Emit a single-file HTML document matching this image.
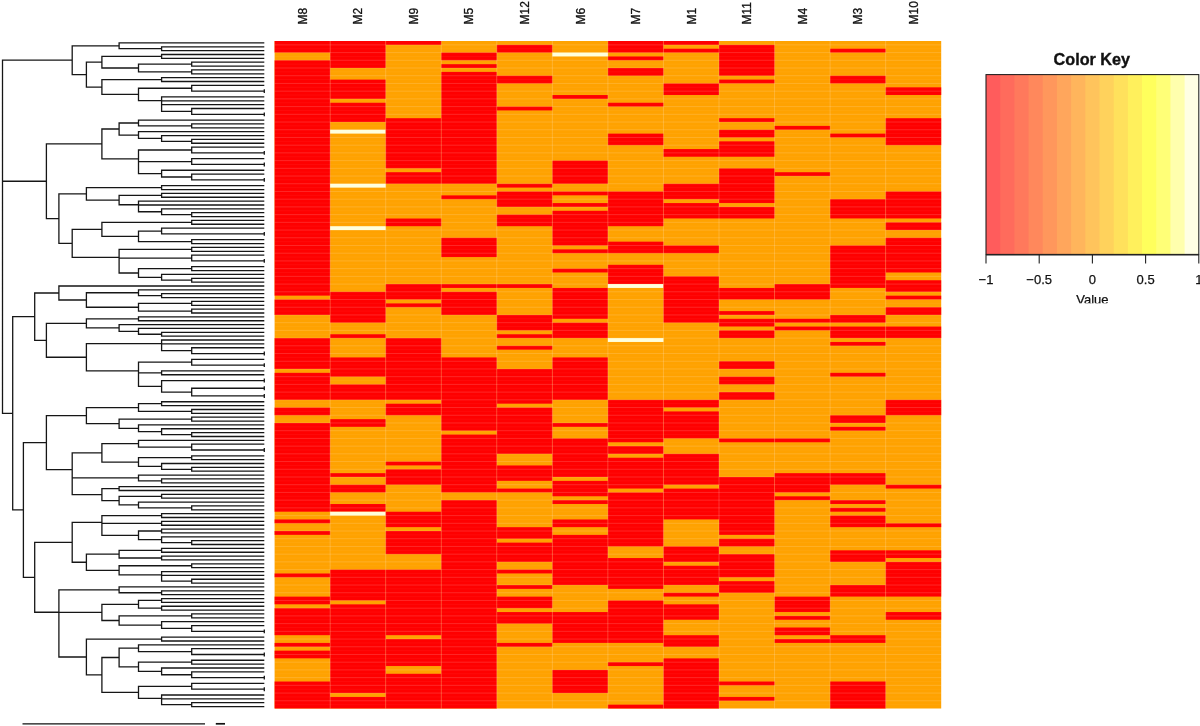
<!DOCTYPE html>
<html><head><meta charset="utf-8"><title>Heatmap</title>
<style>
html,body{margin:0;padding:0;background:#fff;}
body{width:1200px;height:726px;position:relative;overflow:hidden;font-family:"Liberation Sans",sans-serif;}
svg text{font-family:"Liberation Sans",sans-serif;}
.val{position:absolute;left:1062px;top:292px;width:60px;height:10.8px;overflow:hidden;text-align:center;font-size:12px;line-height:14px;color:#111;}
</style></head><body>
<svg width="1200" height="726" viewBox="0 0 1200 726" style="position:absolute;left:0;top:0">
<rect x="274.60" y="41.00" width="666.60" height="667.50" fill="#ffa200"/>
<g shape-rendering="auto">
<rect x="274.60" y="41.00" width="55.55" height="11.58" fill="#ff0000"/>
<rect x="274.60" y="60.29" width="55.55" height="235.36" fill="#ff0000"/>
<rect x="274.60" y="299.51" width="55.55" height="15.43" fill="#ff0000"/>
<rect x="274.60" y="338.10" width="55.55" height="30.87" fill="#ff0000"/>
<rect x="274.60" y="372.82" width="55.55" height="27.01" fill="#ff0000"/>
<rect x="274.60" y="407.55" width="55.55" height="7.72" fill="#ff0000"/>
<rect x="274.60" y="422.98" width="55.55" height="88.74" fill="#ff0000"/>
<rect x="274.60" y="519.44" width="55.55" height="3.86" fill="#ff0000"/>
<rect x="274.60" y="531.01" width="55.55" height="3.86" fill="#ff0000"/>
<rect x="274.60" y="573.46" width="55.55" height="3.86" fill="#ff0000"/>
<rect x="274.60" y="596.61" width="55.55" height="7.72" fill="#ff0000"/>
<rect x="274.60" y="608.18" width="55.55" height="27.01" fill="#ff0000"/>
<rect x="274.60" y="642.91" width="55.55" height="3.86" fill="#ff0000"/>
<rect x="274.60" y="650.62" width="55.55" height="7.72" fill="#ff0000"/>
<rect x="274.60" y="681.49" width="55.55" height="27.01" fill="#ff0000"/>
<rect x="330.15" y="41.00" width="55.55" height="27.01" fill="#ff0000"/>
<rect x="330.15" y="79.58" width="55.55" height="19.29" fill="#ff0000"/>
<rect x="330.15" y="102.73" width="55.55" height="19.29" fill="#ff0000"/>
<rect x="330.15" y="129.74" width="55.55" height="3.86" fill="#ffffdc"/>
<rect x="330.15" y="183.76" width="55.55" height="3.86" fill="#ffffdc"/>
<rect x="330.15" y="226.20" width="55.55" height="3.86" fill="#ffffdc"/>
<rect x="330.15" y="291.79" width="55.55" height="30.87" fill="#ff0000"/>
<rect x="330.15" y="334.24" width="55.55" height="3.86" fill="#ff0000"/>
<rect x="330.15" y="357.39" width="55.55" height="19.29" fill="#ff0000"/>
<rect x="330.15" y="384.40" width="55.55" height="15.43" fill="#ff0000"/>
<rect x="330.15" y="419.12" width="55.55" height="7.72" fill="#ff0000"/>
<rect x="330.15" y="473.14" width="55.55" height="3.86" fill="#ff0000"/>
<rect x="330.15" y="484.71" width="55.55" height="7.72" fill="#ff0000"/>
<rect x="330.15" y="504.01" width="55.55" height="7.72" fill="#ff0000"/>
<rect x="330.15" y="511.72" width="55.55" height="3.86" fill="#ffffdc"/>
<rect x="330.15" y="569.60" width="55.55" height="30.87" fill="#ff0000"/>
<rect x="330.15" y="604.32" width="55.55" height="88.74" fill="#ff0000"/>
<rect x="330.15" y="696.92" width="55.55" height="11.58" fill="#ff0000"/>
<rect x="385.70" y="41.00" width="55.55" height="3.86" fill="#ff0000"/>
<rect x="385.70" y="118.17" width="55.55" height="50.16" fill="#ff0000"/>
<rect x="385.70" y="172.18" width="55.55" height="11.58" fill="#ff0000"/>
<rect x="385.70" y="218.49" width="55.55" height="7.72" fill="#ff0000"/>
<rect x="385.70" y="284.08" width="55.55" height="15.43" fill="#ff0000"/>
<rect x="385.70" y="303.37" width="55.55" height="3.86" fill="#ff0000"/>
<rect x="385.70" y="338.10" width="55.55" height="61.73" fill="#ff0000"/>
<rect x="385.70" y="403.69" width="55.55" height="11.58" fill="#ff0000"/>
<rect x="385.70" y="461.56" width="55.55" height="3.86" fill="#ff0000"/>
<rect x="385.70" y="469.28" width="55.55" height="15.43" fill="#ff0000"/>
<rect x="385.70" y="511.72" width="55.55" height="15.43" fill="#ff0000"/>
<rect x="385.70" y="531.01" width="55.55" height="23.15" fill="#ff0000"/>
<rect x="385.70" y="569.60" width="55.55" height="65.59" fill="#ff0000"/>
<rect x="385.70" y="639.05" width="55.55" height="27.01" fill="#ff0000"/>
<rect x="385.70" y="673.77" width="55.55" height="34.73" fill="#ff0000"/>
<rect x="441.25" y="52.58" width="55.55" height="7.72" fill="#ff0000"/>
<rect x="441.25" y="64.15" width="55.55" height="3.86" fill="#ff0000"/>
<rect x="441.25" y="71.87" width="55.55" height="111.89" fill="#ff0000"/>
<rect x="441.25" y="195.34" width="55.55" height="3.86" fill="#ff0000"/>
<rect x="441.25" y="237.78" width="55.55" height="19.29" fill="#ff0000"/>
<rect x="441.25" y="284.08" width="55.55" height="3.86" fill="#ff0000"/>
<rect x="441.25" y="291.79" width="55.55" height="23.15" fill="#ff0000"/>
<rect x="441.25" y="357.39" width="55.55" height="73.31" fill="#ff0000"/>
<rect x="441.25" y="434.55" width="55.55" height="57.88" fill="#ff0000"/>
<rect x="441.25" y="500.15" width="55.55" height="208.35" fill="#ff0000"/>
<rect x="496.80" y="44.86" width="55.55" height="7.72" fill="#ff0000"/>
<rect x="496.80" y="75.73" width="55.55" height="7.72" fill="#ff0000"/>
<rect x="496.80" y="106.59" width="55.55" height="3.86" fill="#ff0000"/>
<rect x="496.80" y="183.76" width="55.55" height="3.86" fill="#ff0000"/>
<rect x="496.80" y="191.48" width="55.55" height="15.43" fill="#ff0000"/>
<rect x="496.80" y="214.63" width="55.55" height="11.58" fill="#ff0000"/>
<rect x="496.80" y="284.08" width="55.55" height="3.86" fill="#ff0000"/>
<rect x="496.80" y="314.95" width="55.55" height="15.43" fill="#ff0000"/>
<rect x="496.80" y="334.24" width="55.55" height="3.86" fill="#ff0000"/>
<rect x="496.80" y="345.81" width="55.55" height="3.86" fill="#ff0000"/>
<rect x="496.80" y="368.96" width="55.55" height="34.73" fill="#ff0000"/>
<rect x="496.80" y="407.55" width="55.55" height="46.30" fill="#ff0000"/>
<rect x="496.80" y="465.42" width="55.55" height="15.43" fill="#ff0000"/>
<rect x="496.80" y="488.57" width="55.55" height="3.86" fill="#ff0000"/>
<rect x="496.80" y="527.16" width="55.55" height="11.58" fill="#ff0000"/>
<rect x="496.80" y="542.59" width="55.55" height="19.29" fill="#ff0000"/>
<rect x="496.80" y="569.60" width="55.55" height="3.86" fill="#ff0000"/>
<rect x="496.80" y="585.03" width="55.55" height="3.86" fill="#ff0000"/>
<rect x="496.80" y="596.61" width="55.55" height="11.58" fill="#ff0000"/>
<rect x="496.80" y="612.04" width="55.55" height="11.58" fill="#ff0000"/>
<rect x="496.80" y="642.91" width="55.55" height="3.86" fill="#ff0000"/>
<rect x="552.35" y="52.58" width="55.55" height="3.86" fill="#ffffdc"/>
<rect x="552.35" y="95.02" width="55.55" height="3.86" fill="#ff0000"/>
<rect x="552.35" y="160.61" width="55.55" height="23.15" fill="#ff0000"/>
<rect x="552.35" y="191.48" width="55.55" height="3.86" fill="#ff0000"/>
<rect x="552.35" y="203.05" width="55.55" height="3.86" fill="#ff0000"/>
<rect x="552.35" y="210.77" width="55.55" height="34.73" fill="#ff0000"/>
<rect x="552.35" y="249.35" width="55.55" height="3.86" fill="#ff0000"/>
<rect x="552.35" y="268.64" width="55.55" height="3.86" fill="#ff0000"/>
<rect x="552.35" y="287.94" width="55.55" height="30.87" fill="#ff0000"/>
<rect x="552.35" y="322.66" width="55.55" height="15.43" fill="#ff0000"/>
<rect x="552.35" y="357.39" width="55.55" height="42.44" fill="#ff0000"/>
<rect x="552.35" y="422.98" width="55.55" height="3.86" fill="#ff0000"/>
<rect x="552.35" y="438.41" width="55.55" height="38.58" fill="#ff0000"/>
<rect x="552.35" y="480.86" width="55.55" height="15.43" fill="#ff0000"/>
<rect x="552.35" y="500.15" width="55.55" height="3.86" fill="#ff0000"/>
<rect x="552.35" y="519.44" width="55.55" height="7.72" fill="#ff0000"/>
<rect x="552.35" y="534.87" width="55.55" height="50.16" fill="#ff0000"/>
<rect x="552.35" y="612.04" width="55.55" height="30.87" fill="#ff0000"/>
<rect x="552.35" y="669.92" width="55.55" height="23.15" fill="#ff0000"/>
<rect x="607.90" y="41.00" width="55.55" height="11.58" fill="#ff0000"/>
<rect x="607.90" y="56.43" width="55.55" height="3.86" fill="#ff0000"/>
<rect x="607.90" y="68.01" width="55.55" height="7.72" fill="#ff0000"/>
<rect x="607.90" y="102.73" width="55.55" height="3.86" fill="#ff0000"/>
<rect x="607.90" y="133.60" width="55.55" height="11.58" fill="#ff0000"/>
<rect x="607.90" y="191.48" width="55.55" height="34.73" fill="#ff0000"/>
<rect x="607.90" y="241.64" width="55.55" height="11.58" fill="#ff0000"/>
<rect x="607.90" y="264.79" width="55.55" height="19.29" fill="#ff0000"/>
<rect x="607.90" y="284.08" width="55.55" height="3.86" fill="#ffffdc"/>
<rect x="607.90" y="338.10" width="55.55" height="3.86" fill="#ffffdc"/>
<rect x="607.90" y="399.83" width="55.55" height="42.44" fill="#ff0000"/>
<rect x="607.90" y="446.13" width="55.55" height="7.72" fill="#ff0000"/>
<rect x="607.90" y="457.71" width="55.55" height="30.87" fill="#ff0000"/>
<rect x="607.90" y="492.43" width="55.55" height="54.02" fill="#ff0000"/>
<rect x="607.90" y="558.02" width="55.55" height="30.87" fill="#ff0000"/>
<rect x="607.90" y="600.47" width="55.55" height="42.44" fill="#ff0000"/>
<rect x="607.90" y="662.20" width="55.55" height="3.86" fill="#ff0000"/>
<rect x="607.90" y="704.64" width="55.55" height="3.86" fill="#ff0000"/>
<rect x="663.45" y="41.00" width="55.55" height="3.86" fill="#ff0000"/>
<rect x="663.45" y="48.72" width="55.55" height="3.86" fill="#ff0000"/>
<rect x="663.45" y="83.44" width="55.55" height="11.58" fill="#ff0000"/>
<rect x="663.45" y="149.03" width="55.55" height="7.72" fill="#ff0000"/>
<rect x="663.45" y="183.76" width="55.55" height="15.43" fill="#ff0000"/>
<rect x="663.45" y="203.05" width="55.55" height="15.43" fill="#ff0000"/>
<rect x="663.45" y="245.49" width="55.55" height="7.72" fill="#ff0000"/>
<rect x="663.45" y="276.36" width="55.55" height="46.30" fill="#ff0000"/>
<rect x="663.45" y="399.83" width="55.55" height="7.72" fill="#ff0000"/>
<rect x="663.45" y="411.40" width="55.55" height="27.01" fill="#ff0000"/>
<rect x="663.45" y="453.85" width="55.55" height="30.87" fill="#ff0000"/>
<rect x="663.45" y="488.57" width="55.55" height="30.87" fill="#ff0000"/>
<rect x="663.45" y="546.45" width="55.55" height="15.43" fill="#ff0000"/>
<rect x="663.45" y="565.74" width="55.55" height="19.29" fill="#ff0000"/>
<rect x="663.45" y="592.75" width="55.55" height="3.86" fill="#ff0000"/>
<rect x="663.45" y="604.32" width="55.55" height="15.43" fill="#ff0000"/>
<rect x="663.45" y="635.19" width="55.55" height="11.58" fill="#ff0000"/>
<rect x="663.45" y="658.34" width="55.55" height="50.16" fill="#ff0000"/>
<rect x="719.00" y="44.86" width="55.55" height="30.87" fill="#ff0000"/>
<rect x="719.00" y="79.58" width="55.55" height="3.86" fill="#ff0000"/>
<rect x="719.00" y="118.17" width="55.55" height="3.86" fill="#ff0000"/>
<rect x="719.00" y="129.74" width="55.55" height="7.72" fill="#ff0000"/>
<rect x="719.00" y="141.32" width="55.55" height="15.43" fill="#ff0000"/>
<rect x="719.00" y="168.33" width="55.55" height="34.73" fill="#ff0000"/>
<rect x="719.00" y="206.91" width="55.55" height="11.58" fill="#ff0000"/>
<rect x="719.00" y="287.94" width="55.55" height="11.58" fill="#ff0000"/>
<rect x="719.00" y="311.09" width="55.55" height="3.86" fill="#ff0000"/>
<rect x="719.00" y="318.80" width="55.55" height="7.72" fill="#ff0000"/>
<rect x="719.00" y="330.38" width="55.55" height="7.72" fill="#ff0000"/>
<rect x="719.00" y="361.25" width="55.55" height="7.72" fill="#ff0000"/>
<rect x="719.00" y="376.68" width="55.55" height="7.72" fill="#ff0000"/>
<rect x="719.00" y="392.11" width="55.55" height="7.72" fill="#ff0000"/>
<rect x="719.00" y="438.41" width="55.55" height="3.86" fill="#ff0000"/>
<rect x="719.00" y="477.00" width="55.55" height="57.88" fill="#ff0000"/>
<rect x="719.00" y="538.73" width="55.55" height="7.72" fill="#ff0000"/>
<rect x="719.00" y="554.16" width="55.55" height="23.15" fill="#ff0000"/>
<rect x="719.00" y="581.17" width="55.55" height="11.58" fill="#ff0000"/>
<rect x="719.00" y="681.49" width="55.55" height="3.86" fill="#ff0000"/>
<rect x="719.00" y="696.92" width="55.55" height="3.86" fill="#ff0000"/>
<rect x="774.55" y="125.88" width="55.55" height="3.86" fill="#ff0000"/>
<rect x="774.55" y="172.18" width="55.55" height="3.86" fill="#ff0000"/>
<rect x="774.55" y="284.08" width="55.55" height="15.43" fill="#ff0000"/>
<rect x="774.55" y="318.80" width="55.55" height="3.86" fill="#ff0000"/>
<rect x="774.55" y="326.52" width="55.55" height="3.86" fill="#ff0000"/>
<rect x="774.55" y="438.41" width="55.55" height="3.86" fill="#ff0000"/>
<rect x="774.55" y="473.14" width="55.55" height="19.29" fill="#ff0000"/>
<rect x="774.55" y="496.29" width="55.55" height="3.86" fill="#ff0000"/>
<rect x="774.55" y="596.61" width="55.55" height="15.43" fill="#ff0000"/>
<rect x="774.55" y="615.90" width="55.55" height="3.86" fill="#ff0000"/>
<rect x="774.55" y="627.47" width="55.55" height="7.72" fill="#ff0000"/>
<rect x="774.55" y="639.05" width="55.55" height="3.86" fill="#ff0000"/>
<rect x="830.10" y="48.72" width="55.55" height="3.86" fill="#ff0000"/>
<rect x="830.10" y="75.73" width="55.55" height="7.72" fill="#ff0000"/>
<rect x="830.10" y="133.60" width="55.55" height="3.86" fill="#ff0000"/>
<rect x="830.10" y="199.19" width="55.55" height="19.29" fill="#ff0000"/>
<rect x="830.10" y="245.49" width="55.55" height="42.44" fill="#ff0000"/>
<rect x="830.10" y="314.95" width="55.55" height="7.72" fill="#ff0000"/>
<rect x="830.10" y="326.52" width="55.55" height="11.58" fill="#ff0000"/>
<rect x="830.10" y="341.95" width="55.55" height="3.86" fill="#ff0000"/>
<rect x="830.10" y="372.82" width="55.55" height="3.86" fill="#ff0000"/>
<rect x="830.10" y="415.26" width="55.55" height="7.72" fill="#ff0000"/>
<rect x="830.10" y="426.84" width="55.55" height="3.86" fill="#ff0000"/>
<rect x="830.10" y="473.14" width="55.55" height="11.58" fill="#ff0000"/>
<rect x="830.10" y="500.15" width="55.55" height="3.86" fill="#ff0000"/>
<rect x="830.10" y="507.86" width="55.55" height="3.86" fill="#ff0000"/>
<rect x="830.10" y="515.58" width="55.55" height="11.58" fill="#ff0000"/>
<rect x="830.10" y="550.31" width="55.55" height="11.58" fill="#ff0000"/>
<rect x="830.10" y="585.03" width="55.55" height="11.58" fill="#ff0000"/>
<rect x="830.10" y="635.19" width="55.55" height="7.72" fill="#ff0000"/>
<rect x="830.10" y="681.49" width="55.55" height="27.01" fill="#ff0000"/>
<rect x="885.65" y="87.30" width="55.55" height="7.72" fill="#ff0000"/>
<rect x="885.65" y="118.17" width="55.55" height="27.01" fill="#ff0000"/>
<rect x="885.65" y="191.48" width="55.55" height="27.01" fill="#ff0000"/>
<rect x="885.65" y="222.34" width="55.55" height="7.72" fill="#ff0000"/>
<rect x="885.65" y="237.78" width="55.55" height="34.73" fill="#ff0000"/>
<rect x="885.65" y="280.22" width="55.55" height="11.58" fill="#ff0000"/>
<rect x="885.65" y="295.65" width="55.55" height="3.86" fill="#ff0000"/>
<rect x="885.65" y="307.23" width="55.55" height="7.72" fill="#ff0000"/>
<rect x="885.65" y="326.52" width="55.55" height="11.58" fill="#ff0000"/>
<rect x="885.65" y="399.83" width="55.55" height="15.43" fill="#ff0000"/>
<rect x="885.65" y="484.71" width="55.55" height="3.86" fill="#ff0000"/>
<rect x="885.65" y="523.30" width="55.55" height="3.86" fill="#ff0000"/>
<rect x="885.65" y="550.31" width="55.55" height="7.72" fill="#ff0000"/>
<rect x="885.65" y="561.88" width="55.55" height="34.73" fill="#ff0000"/>
<rect x="885.65" y="612.04" width="55.55" height="7.72" fill="#ff0000"/>
</g>
<path d="M330.15 41.0V708.5M385.70 41.0V708.5M441.25 41.0V708.5M496.80 41.0V708.5M552.35 41.0V708.5M607.90 41.0V708.5M663.45 41.0V708.5M719.00 41.0V708.5M774.55 41.0V708.5M830.10 41.0V708.5M885.65 41.0V708.5" stroke="#fff" stroke-opacity="0.28" stroke-width="0.7" fill="none"/>
<path d="M274.6 44.86H941.2M274.6 52.58H941.2M274.6 60.29H941.2M274.6 68.01H941.2M274.6 75.73H941.2M274.6 83.44H941.2M274.6 91.16H941.2M274.6 98.88H941.2M274.6 106.59H941.2M274.6 114.31H941.2M274.6 122.03H941.2M274.6 129.74H941.2M274.6 137.46H941.2M274.6 145.18H941.2M274.6 152.89H941.2M274.6 160.61H941.2M274.6 168.33H941.2M274.6 176.04H941.2M274.6 183.76H941.2M274.6 191.48H941.2M274.6 199.19H941.2M274.6 206.91H941.2M274.6 214.63H941.2M274.6 222.34H941.2M274.6 230.06H941.2M274.6 237.78H941.2M274.6 245.49H941.2M274.6 253.21H941.2M274.6 260.93H941.2M274.6 268.64H941.2M274.6 276.36H941.2M274.6 284.08H941.2M274.6 291.79H941.2M274.6 299.51H941.2M274.6 307.23H941.2M274.6 314.95H941.2M274.6 322.66H941.2M274.6 330.38H941.2M274.6 338.10H941.2M274.6 345.81H941.2M274.6 353.53H941.2M274.6 361.25H941.2M274.6 368.96H941.2M274.6 376.68H941.2M274.6 384.40H941.2M274.6 392.11H941.2M274.6 399.83H941.2M274.6 407.55H941.2M274.6 415.26H941.2M274.6 422.98H941.2M274.6 430.70H941.2M274.6 438.41H941.2M274.6 446.13H941.2M274.6 453.85H941.2M274.6 461.56H941.2M274.6 469.28H941.2M274.6 477.00H941.2M274.6 484.71H941.2M274.6 492.43H941.2M274.6 500.15H941.2M274.6 507.86H941.2M274.6 515.58H941.2M274.6 523.30H941.2M274.6 531.01H941.2M274.6 538.73H941.2M274.6 546.45H941.2M274.6 554.16H941.2M274.6 561.88H941.2M274.6 569.60H941.2M274.6 577.32H941.2M274.6 585.03H941.2M274.6 592.75H941.2M274.6 600.47H941.2M274.6 608.18H941.2M274.6 615.90H941.2M274.6 623.62H941.2M274.6 631.33H941.2M274.6 639.05H941.2M274.6 646.77H941.2M274.6 654.48H941.2M274.6 662.20H941.2M274.6 669.92H941.2M274.6 677.63H941.2M274.6 685.35H941.2M274.6 693.07H941.2M274.6 700.78H941.2" stroke="#fff" stroke-opacity="0.22" stroke-width="0.7" fill="none"/>
<path d="M274.6 48.72H941.2M274.6 56.43H941.2M274.6 64.15H941.2M274.6 71.87H941.2M274.6 79.58H941.2M274.6 87.30H941.2M274.6 95.02H941.2M274.6 102.73H941.2M274.6 110.45H941.2M274.6 118.17H941.2M274.6 125.88H941.2M274.6 133.60H941.2M274.6 141.32H941.2M274.6 149.03H941.2M274.6 156.75H941.2M274.6 164.47H941.2M274.6 172.18H941.2M274.6 179.90H941.2M274.6 187.62H941.2M274.6 195.34H941.2M274.6 203.05H941.2M274.6 210.77H941.2M274.6 218.49H941.2M274.6 226.20H941.2M274.6 233.92H941.2M274.6 241.64H941.2M274.6 249.35H941.2M274.6 257.07H941.2M274.6 264.79H941.2M274.6 272.50H941.2M274.6 280.22H941.2M274.6 287.94H941.2M274.6 295.65H941.2M274.6 303.37H941.2M274.6 311.09H941.2M274.6 318.80H941.2M274.6 326.52H941.2M274.6 334.24H941.2M274.6 341.95H941.2M274.6 349.67H941.2M274.6 357.39H941.2M274.6 365.10H941.2M274.6 372.82H941.2M274.6 380.54H941.2M274.6 388.25H941.2M274.6 395.97H941.2M274.6 403.69H941.2M274.6 411.40H941.2M274.6 419.12H941.2M274.6 426.84H941.2M274.6 434.55H941.2M274.6 442.27H941.2M274.6 449.99H941.2M274.6 457.71H941.2M274.6 465.42H941.2M274.6 473.14H941.2M274.6 480.86H941.2M274.6 488.57H941.2M274.6 496.29H941.2M274.6 504.01H941.2M274.6 511.72H941.2M274.6 519.44H941.2M274.6 527.16H941.2M274.6 534.87H941.2M274.6 542.59H941.2M274.6 550.31H941.2M274.6 558.02H941.2M274.6 565.74H941.2M274.6 573.46H941.2M274.6 581.17H941.2M274.6 588.89H941.2M274.6 596.61H941.2M274.6 604.32H941.2M274.6 612.04H941.2M274.6 619.76H941.2M274.6 627.47H941.2M274.6 635.19H941.2M274.6 642.91H941.2M274.6 650.62H941.2M274.6 658.34H941.2M274.6 666.06H941.2M274.6 673.77H941.2M274.6 681.49H941.2M274.6 689.21H941.2M274.6 696.92H941.2M274.6 704.64H941.2" stroke="#fff" stroke-opacity="0.07" stroke-width="0.6" fill="none"/>
<path d="M72.2 60.22H2.5V297.28H2.5M119.1 45.82H72.2V74.63H86.4M264.3 42.93H119.1V48.72H161.6M264.3 46.79H161.6V50.65H264.3M101.9 62.22H86.4V87.03H101.9M161.6 56.43H101.9V68.01H138.5M264.3 54.50H161.6V58.36H264.3M191.7 64.15H138.5V71.87H191.7M264.3 62.22H191.7V66.08H264.3M264.3 69.94H191.7V73.80H264.3M161.6 79.58H101.9V94.47H138.5M264.3 77.65H161.6V81.51H264.3M191.7 88.27H138.5V100.68H161.6M264.3 85.37H191.7V91.16H264.3M264.3 89.23H264.3V93.09H264.3M264.3 96.95H161.6V104.42H161.6M264.3 100.80H161.6V108.04H161.6M264.3 104.66H161.6V111.42H191.7M264.3 108.52H191.7V114.31H264.3M264.3 112.38H264.3V116.24H264.3M46.4 181.26H2.5V413.31H12.7M101.9 143.91H46.4V218.61H58.9M119.1 129.02H101.9V158.80H138.5M138.5 122.99H119.1V135.05H138.5M264.3 120.10H138.5V125.88H191.7M264.3 123.96H191.7V127.81H264.3M264.3 131.67H138.5V138.42H161.6M264.3 135.53H161.6V141.32H191.7M264.3 139.39H191.7V143.25H264.3M191.7 150.00H138.5V167.60H138.5M264.3 147.11H191.7V152.89H264.3M264.3 150.96H264.3V154.82H264.3M191.7 161.57H138.5V173.63H161.6M264.3 158.68H191.7V164.47H264.3M264.3 162.54H264.3V166.40H264.3M264.3 170.26H161.6V177.01H191.7M264.3 174.11H191.7V179.90H264.3M264.3 177.97H264.3V181.83H264.3M86.4 193.83H58.9V243.38H72.2M161.6 187.62H86.4V200.04H119.1M264.3 185.69H161.6V189.55H264.3M161.6 195.34H119.1V204.74H138.5M264.3 193.41H161.6V197.26H264.3M264.3 201.12H138.5V208.36H138.5M264.3 204.98H138.5V211.73H161.6M264.3 208.84H161.6V214.63H191.7M264.3 212.70H191.7V216.56H264.3M101.9 229.34H72.2V257.43H119.1M191.7 222.34H101.9V236.33H138.5M264.3 220.41H191.7V224.27H264.3M161.6 231.03H138.5V241.64H191.7M264.3 228.13H161.6V233.92H264.3M264.3 231.99H264.3V235.85H264.3M264.3 239.71H191.7V243.57H264.3M191.7 249.35H119.1V265.51H119.1M264.3 247.42H191.7V251.28H264.3M191.7 258.03H119.1V272.99H138.5M264.3 255.14H191.7V260.93H264.3M264.3 259.00H264.3V262.86H264.3M191.7 268.64H138.5V277.33H161.6M264.3 266.72H191.7V270.57H264.3M264.3 274.43H161.6V280.22H191.7M264.3 278.29H191.7V282.15H264.3M34.7 316.66H12.7V509.96H23.4M58.9 293.00H34.7V340.33H46.4M264.3 286.01H58.9V299.99H86.4M138.5 292.76H86.4V307.23H138.5M264.3 289.87H138.5V295.65H161.6M264.3 293.72H161.6V297.58H264.3M191.7 303.37H138.5V311.09H191.7M264.3 301.44H191.7V305.30H264.3M264.3 309.16H191.7V313.02H264.3M86.4 323.39H46.4V357.27H86.4M138.5 318.80H86.4V327.97H119.1M264.3 316.87H138.5V320.73H264.3M264.3 324.59H119.1V331.34H138.5M264.3 328.45H138.5V334.24H161.6M264.3 332.31H161.6V336.17H264.3M161.6 343.64H86.4V370.89H138.5M264.3 340.02H161.6V347.26H161.6M264.3 343.88H161.6V350.64H191.7M264.3 347.74H191.7V353.53H264.3M264.3 351.60H264.3V355.46H264.3M191.7 362.21H138.5V379.57H138.5M264.3 359.32H191.7V365.10H264.3M264.3 363.17H264.3V367.03H264.3M161.6 372.82H138.5V386.33H161.6M264.3 370.89H161.6V374.75H264.3M264.3 380.54H161.6V392.11H191.7M264.3 378.61H264.3V382.47H264.3M264.3 388.25H191.7V395.97H264.3M264.3 386.33H264.3V390.18H264.3M264.3 394.04H264.3V397.90H264.3M46.4 442.60H23.4V577.31H34.7M86.4 415.62H46.4V469.58H72.2M138.5 407.55H86.4V423.70H119.1M161.6 403.69H138.5V411.40H191.7M264.3 401.76H161.6V405.62H264.3M264.3 409.48H191.7V413.33H264.3M191.7 419.12H119.1V428.29H138.5M264.3 417.19H191.7V421.05H264.3M264.3 424.91H138.5V431.66H161.6M264.3 428.77H161.6V434.55H191.7M264.3 432.63H191.7V436.48H264.3M101.9 452.88H72.2V486.28H72.2M138.5 443.72H101.9V462.05H138.5M264.3 440.34H138.5V447.09H191.7M264.3 444.20H191.7V449.99H264.3M264.3 448.06H264.3V451.92H264.3M191.7 457.71H138.5V466.39H161.6M264.3 455.78H191.7V459.63H264.3M264.3 463.49H161.6V469.28H191.7M264.3 467.35H191.7V471.21H264.3M138.5 477.96H72.2V494.60H101.9M264.3 475.07H138.5V480.86H161.6M264.3 478.93H161.6V482.78H264.3M119.1 488.57H101.9V500.63H119.1M264.3 486.64H119.1V490.50H264.3M161.6 496.29H119.1V504.97H138.5M264.3 494.36H161.6V498.22H264.3M264.3 502.08H138.5V507.86H191.7M264.3 505.93H191.7V509.79H264.3M72.2 542.35H34.7V612.27H58.9M101.9 522.45H72.2V562.24H86.4M161.6 515.58H101.9V529.33H101.9M264.3 513.65H161.6V517.51H264.3M161.6 523.30H101.9V535.36H138.5M264.3 521.37H161.6V525.23H264.3M161.6 531.01H138.5V539.70H161.6M264.3 529.09H161.6V532.94H264.3M264.3 536.80H161.6V542.59H191.7M264.3 540.66H191.7V544.52H264.3M119.1 554.16H86.4V570.32H119.1M161.6 550.31H119.1V558.02H161.6M264.3 548.38H161.6V552.24H264.3M264.3 556.09H161.6V559.95H264.3M191.7 565.74H119.1V574.90H161.6M264.3 563.81H191.7V567.67H264.3M264.3 571.53H161.6V578.28H161.6M264.3 575.39H161.6V581.17H191.7M264.3 579.24H191.7V583.10H264.3M119.1 589.85H58.9V634.69H58.9M264.3 586.96H119.1V592.75H161.6M264.3 590.82H161.6V594.68H264.3M101.9 612.40H58.9V656.98H86.4M138.5 604.32H101.9V620.48H119.1M161.6 600.47H138.5V608.18H161.6M264.3 598.54H161.6V602.39H264.3M264.3 606.25H161.6V610.11H264.3M191.7 615.90H119.1V625.06H161.6M264.3 613.97H191.7V617.83H264.3M264.3 621.69H161.6V628.44H191.7M264.3 625.54H191.7V631.33H264.3M264.3 629.40H264.3V633.26H264.3M161.6 639.05H86.4V674.92H101.9M264.3 637.12H161.6V640.98H264.3M119.1 657.50H101.9V692.34H138.5M138.5 648.21H119.1V666.78H138.5M264.3 644.84H138.5V651.59H191.7M264.3 648.70H191.7V654.48H264.3M264.3 652.55H264.3V656.41H264.3M191.7 662.20H138.5V671.36H161.6M264.3 660.27H191.7V664.13H264.3M264.3 667.99H161.6V674.74H191.7M264.3 671.85H191.7V677.63H264.3M264.3 675.70H264.3V679.56H264.3M191.7 686.31H138.5V698.37H161.6M264.3 683.42H191.7V689.21H264.3M264.3 687.28H264.3V691.14H264.3M264.3 695.00H161.6V701.75H161.6M264.3 698.85H161.6V704.64H191.7M264.3 702.71H191.7V706.57H264.3" stroke="#161616" stroke-width="1.3" fill="none" stroke-linejoin="miter"/>
<path d="M22.5 723.8H205" stroke="#111" stroke-width="1.3" fill="none"/><path d="M215.8 723.8H225" stroke="#111" stroke-width="1.7" fill="none"/>
<text transform="translate(306.77,24.5) rotate(-90)" font-size="12" fill="#111" stroke="#111" stroke-width="0.3">M8</text>
<text transform="translate(362.32,24.5) rotate(-90)" font-size="12" fill="#111" stroke="#111" stroke-width="0.3">M2</text>
<text transform="translate(417.88,24.5) rotate(-90)" font-size="12" fill="#111" stroke="#111" stroke-width="0.3">M9</text>
<text transform="translate(473.43,24.5) rotate(-90)" font-size="12" fill="#111" stroke="#111" stroke-width="0.3">M5</text>
<text transform="translate(528.98,24.5) rotate(-90)" font-size="12" fill="#111" stroke="#111" stroke-width="0.3">M12</text>
<text transform="translate(584.52,24.5) rotate(-90)" font-size="12" fill="#111" stroke="#111" stroke-width="0.3">M6</text>
<text transform="translate(640.08,24.5) rotate(-90)" font-size="12" fill="#111" stroke="#111" stroke-width="0.3">M7</text>
<text transform="translate(695.63,24.5) rotate(-90)" font-size="12" fill="#111" stroke="#111" stroke-width="0.3">M1</text>
<text transform="translate(751.18,24.5) rotate(-90)" font-size="12" fill="#111" stroke="#111" stroke-width="0.3">M11</text>
<text transform="translate(806.73,24.5) rotate(-90)" font-size="12" fill="#111" stroke="#111" stroke-width="0.3">M4</text>
<text transform="translate(862.28,24.5) rotate(-90)" font-size="12" fill="#111" stroke="#111" stroke-width="0.3">M3</text>
<text transform="translate(917.83,24.5) rotate(-90)" font-size="12" fill="#111" stroke="#111" stroke-width="0.3">M10</text>
<rect x="986.00" y="74.6" width="14.99" height="179.8" fill="rgb(255,92,92)"/>
<rect x="1000.19" y="74.6" width="14.99" height="179.8" fill="rgb(255,107,92)"/>
<rect x="1014.37" y="74.6" width="14.99" height="179.8" fill="rgb(255,121,92)"/>
<rect x="1028.56" y="74.6" width="14.99" height="179.8" fill="rgb(255,136,92)"/>
<rect x="1042.75" y="74.6" width="14.99" height="179.8" fill="rgb(255,151,92)"/>
<rect x="1056.93" y="74.6" width="14.99" height="179.8" fill="rgb(255,166,92)"/>
<rect x="1071.12" y="74.6" width="14.99" height="179.8" fill="rgb(255,181,92)"/>
<rect x="1085.31" y="74.6" width="14.99" height="179.8" fill="rgb(255,196,92)"/>
<rect x="1099.49" y="74.6" width="14.99" height="179.8" fill="rgb(255,210,92)"/>
<rect x="1113.68" y="74.6" width="14.99" height="179.8" fill="rgb(255,225,92)"/>
<rect x="1127.87" y="74.6" width="14.99" height="179.8" fill="rgb(255,240,92)"/>
<rect x="1142.05" y="74.6" width="14.99" height="179.8" fill="rgb(255,255,92)"/>
<rect x="1156.24" y="74.6" width="14.99" height="179.8" fill="rgb(255,255,119)"/>
<rect x="1170.43" y="74.6" width="14.99" height="179.8" fill="rgb(255,255,173)"/>
<rect x="1184.61" y="74.6" width="14.19" height="179.8" fill="rgb(255,255,228)"/>
<rect x="986.0" y="74.6" width="212.80" height="179.8" fill="none" stroke="#1c1c1c" stroke-width="1.05"/>
<path d="M986.0 254.9H1198.8M986.00 254.4V263.4M1039.20 254.4V263.4M1092.40 254.4V263.4M1145.60 254.4V263.4M1198.80 254.4V263.4" stroke="#222" stroke-width="1.1" fill="none"/>
<text x="986.00" y="284.0" font-size="13" text-anchor="middle" fill="#111" stroke="#111" stroke-width="0.25">−1</text>
<text x="1039.20" y="284.0" font-size="13" text-anchor="middle" fill="#111" stroke="#111" stroke-width="0.25">−0.5</text>
<text x="1092.40" y="284.0" font-size="13" text-anchor="middle" fill="#111" stroke="#111" stroke-width="0.25">0</text>
<text x="1145.60" y="284.0" font-size="13" text-anchor="middle" fill="#111" stroke="#111" stroke-width="0.25">0.5</text>
<text x="1198.80" y="284.0" font-size="13" text-anchor="middle" fill="#111" stroke="#111" stroke-width="0.25">1</text>
<text x="1091.8" y="64.9" font-size="16.2" font-weight="bold" text-anchor="middle" fill="#111" stroke="#111" stroke-width="0.35">Color Key</text>
<clipPath id="vc"><rect x="1040" y="288" width="110" height="15.2"/></clipPath>
<text x="1092.4" y="304.4" font-size="13" text-anchor="middle" fill="#111" stroke="#111" stroke-width="0.25" clip-path="url(#vc)">Value</text>
</svg>
</body></html>
